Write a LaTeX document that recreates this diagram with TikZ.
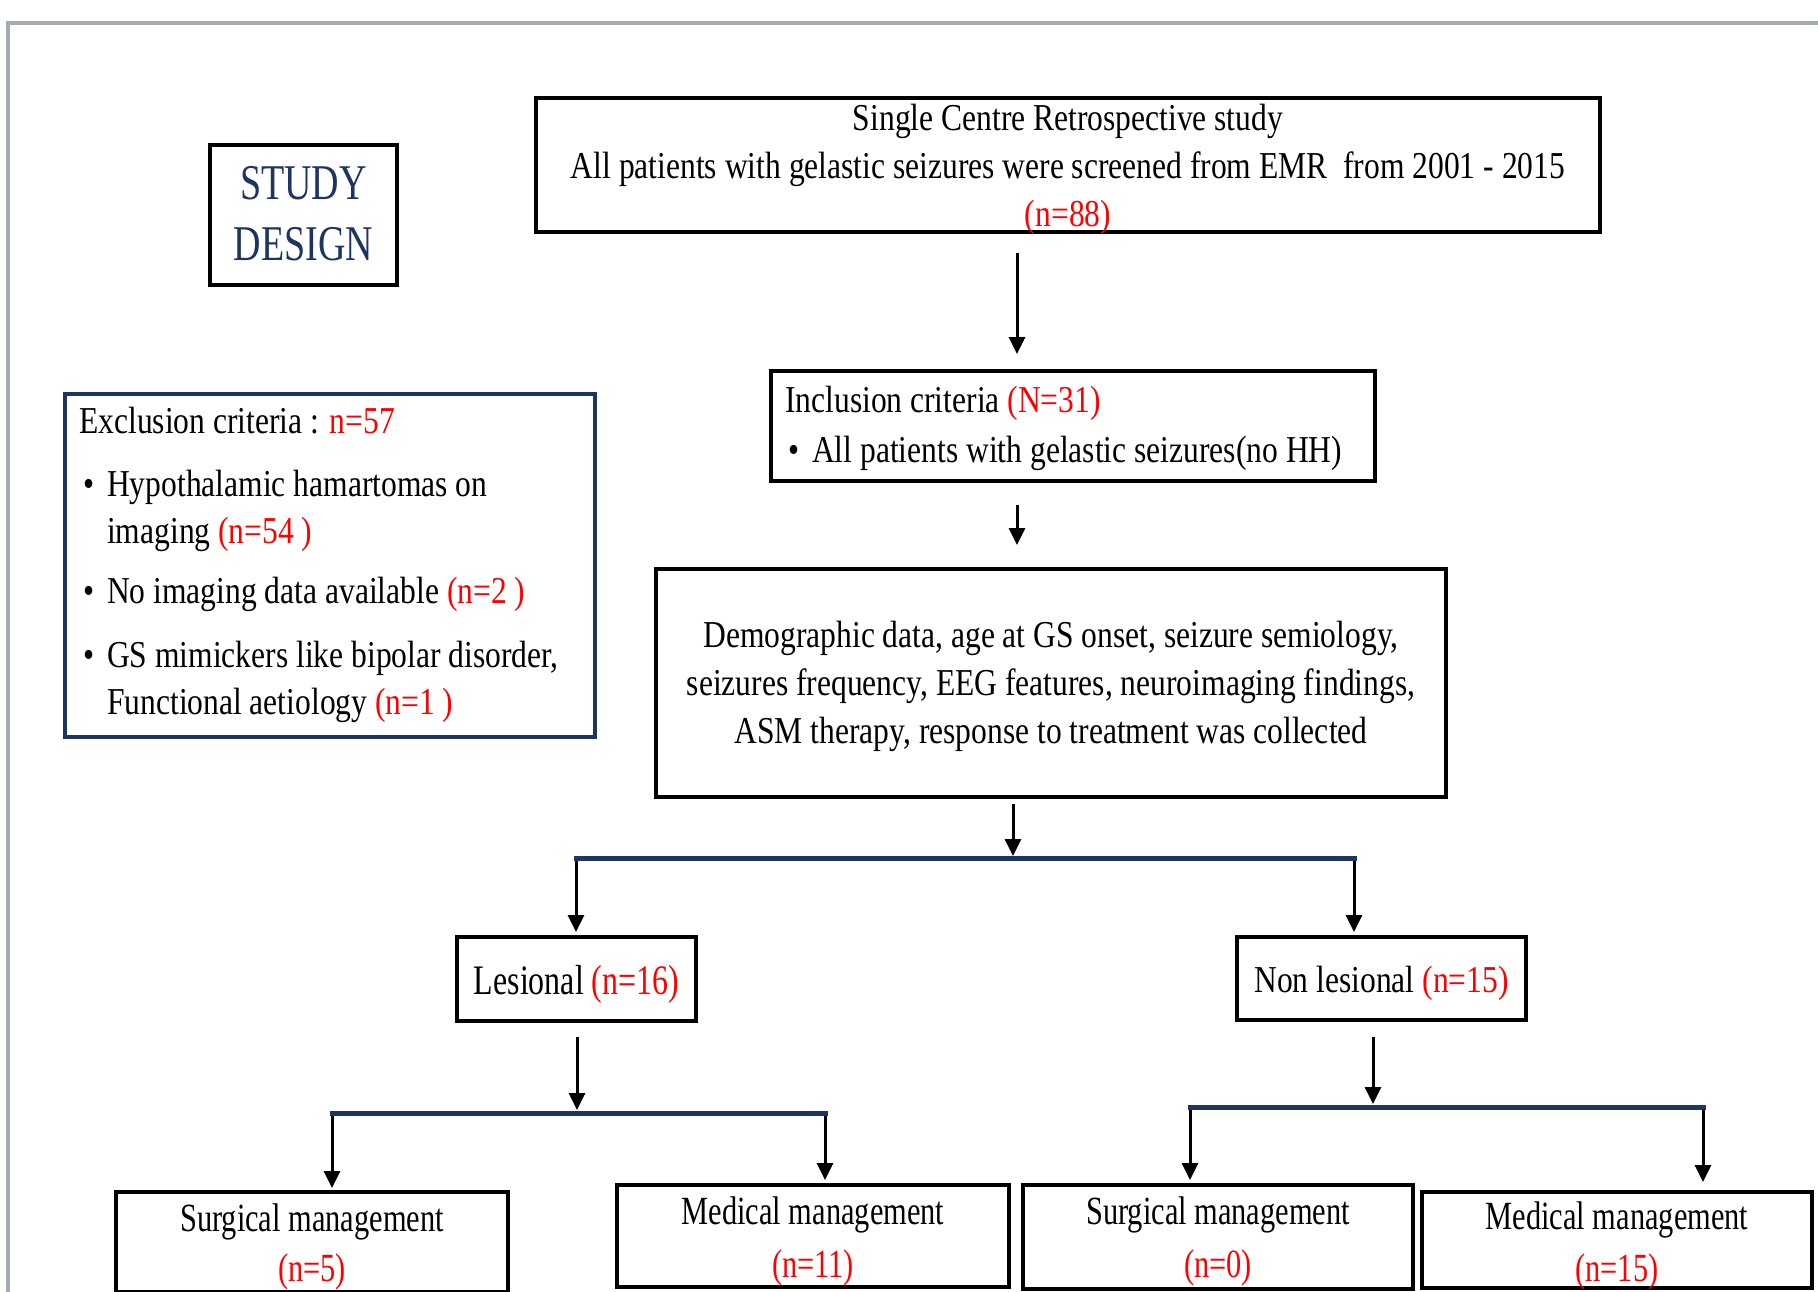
\documentclass[tikz,border=0pt]{standalone}
\usepackage{fontspec}
\setmainfont[FakeStretch=0.83]{Liberation Serif}
\newfontfamily\fnarrow[FakeStretch=0.76]{Liberation Serif}
\usetikzlibrary{arrows.meta}
\definecolor{navy}{HTML}{1F3461}
\definecolor{framegray}{HTML}{A5ABB3}
\definecolor{redn}{HTML}{FF0000}
\newcommand{\rn}[1]{\textcolor{redn}{#1}}
\newcommand{\myTop}[1]{\rule{0pt}{#1}}
\newcommand{\myBot}[1]{\rule[-#1]{0pt}{#1}}
\newcommand{\bul}{\hspace*{4pt}\makebox[24pt][l]{\textbullet}}
\begin{document}
\begin{tikzpicture}[x=1pt,y=-1pt,
  box/.style={draw=black, line width=4pt, inner sep=0pt, align=center, anchor=north},
  fsz/.style={font=\fontsize{38}{#1}\selectfont},
  fnar/.style 2 args={font=\fnarrow\fontsize{#1}{#2}\selectfont},
  txt/.style={anchor=base west, align=left, inner sep=0pt},
  arr/.style={draw=black, line width=3pt, -{Triangle[length=17pt,width=16pt]}},
  split/.style={draw=navy, line width=5pt, line cap=rect},
]
\useasboundingbox (0,0) rectangle (1818,1292);
\fill[white] (0,0) rectangle (1818,1292);
\draw[framegray, line width=4.5pt] (8,1300) -- (8,23) -- (1830,23);

% boxes
\node[box, fsz=48, minimum width=1064pt] (top) at (1068,96)
  {\myTop{32pt}Single Centre Retrospective study\\
   All patients with gelastic seizures were screened from EMR~ from 2001 - 2015\\
   \smash{\rn{(n=88)}}\myBot{6pt}};

\node[box, fnar={50}{60}, text=navy, minimum width=187pt] (sd) at (303.5,143)
  {\myTop{55pt}STUDY\\DESIGN\myBot{25pt}};

\node[box, draw=navy, minimum width=530pt, minimum height=343pt] (excl) at (330,392) {};
\node[txt, fsz=47] (exclt) at (79,714)
  {Exclusion criteria : \rn{n=57}\\[16pt]
   \bul Hypothalamic hamartomas on\\
   \hspace*{28pt}imaging \rn{(n=54 )}\\[13pt]
   \bul No imaging data available \rn{(n=2 )}\\[17pt]
   \bul GS mimickers like bipolar disorder,\\
   \hspace*{28pt}Functional aetiology \rn{(n=1 )}};

\node[box, minimum width=604pt, minimum height=110pt] (incl) at (1073,369) {};
\node[txt, fsz=50] (inclt) at (785,462)
  {Inclusion criteria \rn{(N=31)}\\
   \hspace*{3pt}\makebox[24pt][l]{\textbullet}All patients with gelastic seizures(no HH)};

\node[box, fsz=48, minimum width=790pt] (demo) at (1051,567)
  {\myTop{78pt}Demographic data, age at GS onset, seizure semiology,\\
   seizures frequency, EEG features, neuroimaging findings,\\
   ASM therapy, response to treatment was collected\myBot{54pt}};

\node[box, fnar={42}{48}, minimum width=239pt] (les) at (576.5,935)
  {\myTop{57pt}Lesional \rn{(n=16)}\myBot{27pt}};
\node[box, fsz=48, minimum width=289pt] (non) at (1381.5,935)
  {\myTop{55pt}Non lesional \rn{(n=15)}\myBot{28pt}};

\node[box, fnar={40}{50}, minimum width=392pt] (s1) at (312,1190)
  {\myTop{39pt}Surgical management\\\smash{\rn{(n=5)}}\myBot{11pt}};
\node[box, fnar={40}{53}, minimum width=392pt] (m1) at (813,1183)
  {\myTop{39pt}Medical management\\\smash{\rn{(n=11)}}\myBot{10pt}};
\node[box, fnar={40}{53}, minimum width=390pt] (s2) at (1218,1183)
  {\myTop{39pt}Surgical management\\\smash{\rn{(n=0)}}\myBot{12pt}};
\node[box, fnar={40}{52}, minimum width=390pt] (m2) at (1617,1190)
  {\myTop{37pt}Medical management\\\smash{\rn{(n=15)}}\myBot{7pt}};

% junction coordinates
\coordinate (ax) at (1017,300);
\coordinate (j1) at (1013,858);
\coordinate (sp1L) at (576,858);
\coordinate (sp1R) at (1354,858);
\coordinate (j2) at (577,1113);
\coordinate (sp2L) at (332,1113);
\coordinate (sp2R) at (825,1113);
\coordinate (j3) at (1373,1107);
\coordinate (sp3L) at (1190,1107);
\coordinate (sp3R) at (1703,1107);

% connectors
\draw[arr, shorten <=19pt, shorten >=15pt] (top.south -| ax) -- (incl.north -| ax);
\draw[arr, shorten <=22pt, shorten >=22pt] (incl.south -| ax) -- (demo.north -| ax);
\draw[arr, shorten <=5pt, shorten >=2pt] (demo.south -| j1) -- (j1);
\draw[arr, shorten >=3pt] (sp1L) -- (sp1L |- les.north);
\draw[arr, shorten >=3pt] (sp1R) -- (sp1R |- non.north);
\draw[arr, shorten <=14pt, shorten >=3pt] (les.south -| j2) -- (j2);
\draw[arr, shorten <=15pt, shorten >=3pt] (non.south -| j3) -- (j3);
\draw[arr, shorten >=2pt] (sp2L) -- (sp2L |- s1.north);
\draw[arr, shorten >=3pt] (sp2R) -- (sp2R |- m1.north);
\draw[arr, shorten >=3pt] (sp3L) -- (sp3L |- s2.north);
\draw[arr, shorten >=8pt] (sp3R) -- (sp3R |- m2.north);
\draw[split] (sp1L) -- (sp1R);
\draw[split] (sp2L) -- (sp2R);
\draw[split] (sp3L) -- (sp3R);
\end{tikzpicture}
\end{document}
